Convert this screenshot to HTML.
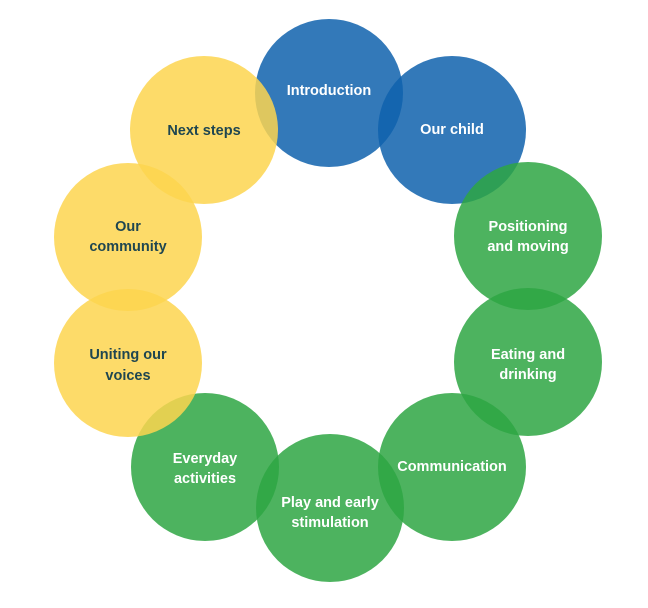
<!DOCTYPE html>
<html><head><style>
html,body{margin:0;padding:0;background:#fff;width:648px;height:608px;overflow:hidden}
text{font-family:"Liberation Sans",sans-serif;font-size:14.5px;font-weight:bold;text-anchor:middle}
circle{fill-opacity:0.85}
</style></head><body>
<svg width="648" height="608" viewBox="0 0 648 608">
<circle cx="329" cy="93" r="74" fill="#0f62ad"/>
<circle cx="452" cy="130" r="74" fill="#0f62ad"/>
<circle cx="528" cy="236" r="74" fill="#2ea643"/>
<circle cx="528" cy="362" r="74" fill="#2ea643"/>
<circle cx="452" cy="467" r="74" fill="#2ea643"/>
<circle cx="330" cy="508" r="74" fill="#2ea643"/>
<circle cx="205" cy="467" r="74" fill="#2ea643"/>
<circle cx="128" cy="363" r="74" fill="#fdd54f"/>
<circle cx="128" cy="237" r="74" fill="#fdd54f"/>
<circle cx="204" cy="130" r="74" fill="#fdd54f"/>
<g fill="#fff">
<text x="329" y="95">Introduction</text>
<text x="452" y="134">Our child</text>
<text x="528" y="231">Positioning</text>
<text x="528" y="251">and moving</text>
<text x="528" y="359">Eating and</text>
<text x="528" y="379">drinking</text>
<text x="452" y="471">Communication</text>
<text x="330" y="507">Play and early</text>
<text x="330" y="527">stimulation</text>
<text x="205" y="463">Everyday</text>
<text x="205" y="483">activities</text>
</g>
<g fill="#1f4650">
<text x="128" y="359">Uniting our</text>
<text x="128" y="380">voices</text>
<text x="128" y="231">Our</text>
<text x="128" y="251">community</text>
<text x="204" y="135">Next steps</text>
</g>
</svg>
</body></html>
